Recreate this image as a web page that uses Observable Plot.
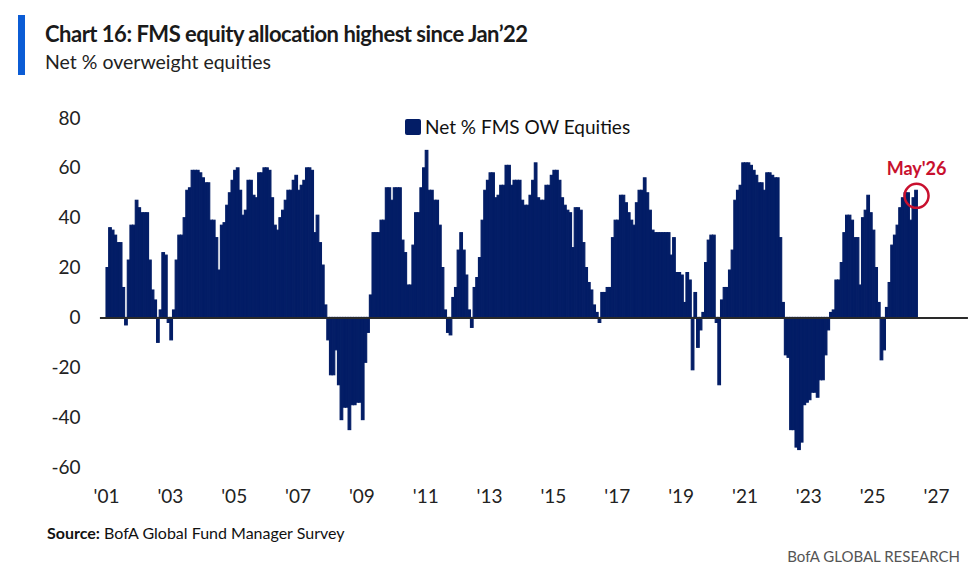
<!DOCTYPE html>
<html>
<head>
<meta charset="utf-8">
<script src="https://cdn.jsdelivr.net/npm/d3@7"></script>
<script src="https://cdn.jsdelivr.net/npm/@observablehq/plot@0.6"></script>
<style>
  body { margin: 0; background: #fff; }
  #wrap { position: relative; width: 968px; height: 580px; font-family: Lato, "Open Sans", sans-serif; color: #1a1a1a; overflow: hidden; }
  #accent { position: absolute; left: 18px; top: 15px; width: 7px; height: 60px; background: #0b5cd5; }
  #title { position: absolute; left: 45px; top: 20px; font-weight: 700; font-size: 22px; white-space: nowrap; letter-spacing: -0.5px; transform-origin: left top; }
  #subtitle { position: absolute; left: 45px; top: 50px; font-size: 19.5px; white-space: nowrap; color: #222; }
  #chart { position: absolute; left: 0; top: 95px; }
  #legend { position: absolute; left: 405px; top: 115px; display: flex; align-items: center; font-size: 19px; color: #111; white-space: nowrap; }
  #legend .sw { width: 16px; height: 16px; background: #031d66; border-radius: 2px; margin-right: 4px; }
  #source { position: absolute; left: 47px; top: 523px; font-size: 16px; white-space: nowrap; color: #111; }
  #brand { position: absolute; right: 8px; top: 547px; font-size: 15px; color: #555; white-space: nowrap; }
</style>
</head>
<body>
<div id="wrap">
  <div id="accent"></div>
  <div id="title">Chart 16: FMS equity allocation highest since Jan’22</div>
  <div id="subtitle">Net % overweight equities</div>
  <div id="chart"></div>
  <div id="legend"><span class="sw"></span><span id="legendText"></span></div>
  <div id="source"><b>Source:</b> BofA Global Fund Manager Survey</div>
  <div id="brand">BofA GLOBAL RESEARCH</div>
</div>
<script>
// Net % of fund managers overweight equities, monthly, January to December of each year
const y2001 = [20, 36, 35, 33, 30, 30, 12, -3, 23, 37, 37, 47];
const y2002 = [44, 42, 42, 42, 23, 11, 7, -10, 3, 26, 25, -2];
const y2003 = [-9, 3, 23, 33, 33, 40, 51, 52, 59, 59, 59, 58];
const y2004 = [56, 54, 54, 39, 39, 32, 19, 37, 38, 45, 50, 55];
const y2005 = [59, 60, 51, 41, 43, 55, 55, 49, 48, 58, 58, 60];
const y2006 = [60, 59, 48, 37, 35, 40, 43, 47, 51, 51, 55, 57];
const y2007 = [51, 53, 55, 60, 60, 59, 34, 41, 30, 21, 5, -9];
const y2008 = [-23, -23, -13, -27, -41, -36, -36, -45, -35, -35, -34, -34];
const y2009 = [-41, -18, -6, 9, 34, 34, 34, 39, 39, 52, 52, 47];
const y2010 = [52, 52, 52, 31, 26, 13, 13, 29, 42, 42, 52, 60];
const y2011 = [67, 51, 51, 47, 47, 37, 20, 3, -6, -7, 8, 12];
const y2012 = [27, 34, 27, 17, 3, -4, 12, 16, 24, 39, 51, 55];
const y2013 = [58, 58, 48, 49, 53, 53, 61, 61, 53, 55, 55, 55];
const y2014 = [47, 45, 45, 49, 55, 62, 48, 47, 47, 53, 53, 57];
const y2015 = [59, 59, 55, 48, 45, 43, 42, 28, 44, 44, 43, 30];
const y2016 = [20, 14, 11, 5, 2, -2, 10, 10, 12, 12, 32, 39];
const y2017 = [39, 49, 49, 46, 42, 39, 37, 46, 51, 51, 56, 50];
const y2018 = [43, 35, 34, 34, 34, 34, 34, 34, 25, 32, 18, 18];
const y2019 = [17, 6, 18, 15, -21, 10, -12, -5, 2, 22, 31, 33];
const y2020 = [33, -2, -27, 7, 12, 12, 19, 27, 47, 51, 53, 62];
const y2021 = [62, 62, 61, 59, 57, 54, 54, 51, 58, 58, 57, 56];
const y2022 = [56, 32, 6, -15, -16, -45, -45, -52, -53, -50, -35, -34];
const y2023 = [-33, -30, -30, -32, -25, -25, -15, -5, 2, 3, 15, 15];
const y2024 = [22, 34, 41, 41, 39, 32, 32, 13, 40, 43, 49, 42];
const y2025 = [35, 20, 6, -17, -13, 4, 14, 29, 33, 37, 44, 48];
const y2026 = [50, 50, 39, 48, 51];

const years = [2001, 2002, 2003, 2004, 2005, 2006, 2007, 2008, 2009, 2010, 2011, 2012, 2013,
               2014, 2015, 2016, 2017, 2018, 2019, 2020, 2021, 2022, 2023, 2024, 2025, 2026];
const series = [y2001, y2002, y2003, y2004, y2005, y2006, y2007, y2008, y2009, y2010, y2011, y2012, y2013,
                y2014, y2015, y2016, y2017, y2018, y2019, y2020, y2021, y2022, y2023, y2024, y2025, y2026];

const seriesName = "Net % FMS OW Equities";
const latestLabel = "May'26";
const xTicks = [2001, 2003, 2005, 2007, 2009, 2011, 2013, 2015, 2017, 2019, 2021, 2023, 2025, 2027];
const yTicks = [-60, -40, -20, 0, 20, 40, 60, 80];

const navy = "#031d66";
const red = "#c8102e";

// one row per monthly survey
const rows = years.flatMap((yr, i) => series[i].map((v, m) => ({ t: yr + m / 12, value: v })));
const latest = rows[rows.length - 1];

document.getElementById("legendText").textContent = seriesName;

const chart = Plot.plot({
  width: 968,
  height: 420,
  marginLeft: 106,
  marginRight: 32,
  marginTop: 23,
  marginBottom: 48,
  style: { fontFamily: "Lato, 'Open Sans', sans-serif", fontSize: "19px", color: "#222", background: "transparent", overflow: "visible" },
  x: { domain: [2001, 2027] },
  y: { domain: [-60, 80] },
  marks: [
    Plot.axisX({ ticks: xTicks, tickSize: 0, tickPadding: 22, tickFormat: d => "'" + String(d).slice(2), label: null }),
    Plot.axisY({ ticks: yTicks, tickSize: 0, tickPadding: 26, tickFormat: d => String(d), label: null }),
    // adjacent monthly bars, stroked in their own colour so no seams show between them
    Plot.rectY(rows, { x1: "t", x2: d => d.t + 1 / 12, y: "value", fill: navy, stroke: navy, strokeWidth: 1.1 }),
    Plot.ruleY([0], { x1: 2000.81, x2: 2028.0, stroke: "#2a2a2a", strokeWidth: 2, clip: false }),
    Plot.dot([latest], { x: d => d.t + 1 / 24, y: "value", dy: 5, r: 12, stroke: red, strokeWidth: 2.5, fill: "none" }),
    Plot.text([latest], { x: d => d.t + 1 / 24, y: "value", dy: -22, text: () => latestLabel, fill: red, fontWeight: 700, fontSize: 18 })
  ]
});
document.getElementById("chart").appendChild(chart);
</script>
</body>
</html>
